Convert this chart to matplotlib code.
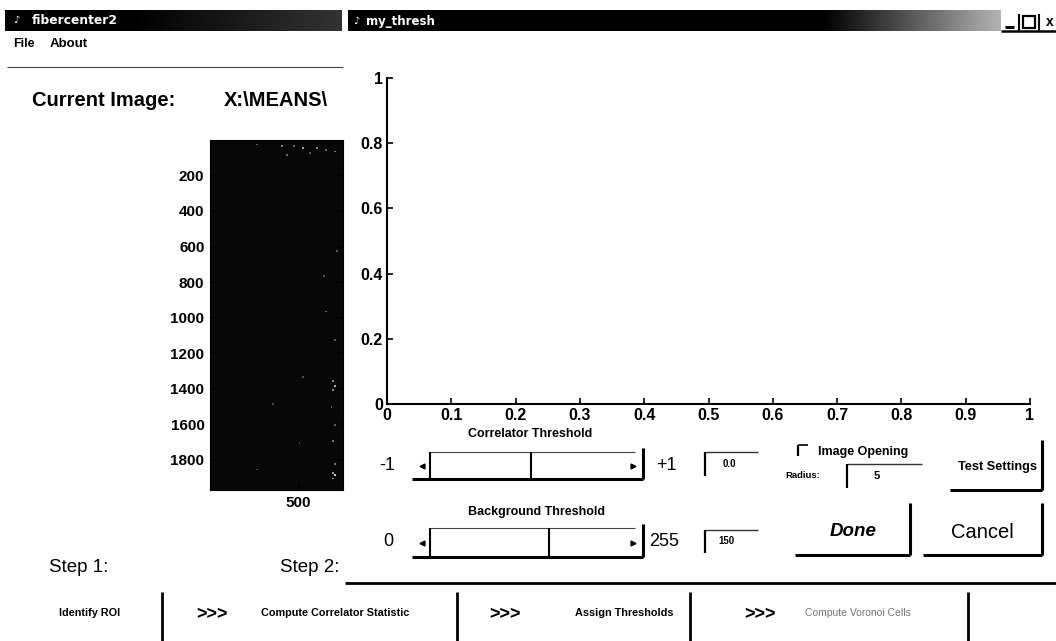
import matplotlib.pyplot as plt
import numpy as np
from matplotlib.patches import Rectangle

W, H = 1056, 641

# right panel (empty threshold plot)
x_ticks = [0, 0.1, 0.2, 0.3, 0.4, 0.5, 0.6, 0.7, 0.8, 0.9, 1]
y_ticks = [0, 0.2, 0.4, 0.6, 0.8, 1]

# left panel: current image (almost black, a few bright specks)
img_rows, img_cols = 1970, 750
img_yticks = [200, 400, 600, 800, 1000, 1200, 1400, 1600, 1800]
img_xticks = [500]
img_level = 0.03
speck_rows = [25, 30, 35, 40, 45, 55, 60, 70, 80, 620, 760, 960, 1120, 1330,
              1350, 1380, 1400, 1480, 1500, 1600, 1690, 1700, 1820, 1850, 1870, 1880, 1900]
speck_cols = [260, 400, 470, 520, 600, 650, 700, 560, 430, 710, 640, 650, 700, 520,
              690, 700, 695, 350, 680, 700, 690, 500, 700, 260, 690, 700, 695]
speck_vals = [0.4, 0.5, 0.4, 0.6, 0.5, 0.4, 0.5, 0.35, 0.4, 0.35, 0.35, 0.4, 0.35, 0.3,
              0.5, 0.7, 0.5, 0.3, 0.35, 0.35, 0.45, 0.3, 0.45, 0.3, 0.6, 0.8, 0.6]

# controls
corr_min, corr_max, corr_value = -1, 1, 0.0
bg_min, bg_max, bg_value = 0, 255, 150
radius = 5
step_labels = ["Identify ROI", "Compute Correlator Statistic",
               "Assign Thresholds", "Compute Voronoi Cells"]

plt.rcParams['font.family'] = ['Liberation Sans', 'DejaVu Sans']

fig = plt.figure(figsize=(W / 100, H / 100), dpi=100)
bg = fig.add_axes([0, 0, 1, 1])
bg.set_xlim(0, W)
bg.set_ylim(H, 0)
bg.axis('off')


def ax_rect(l, t, r, b):
    return [l / W, 1 - b / H, (r - l) / W, (b - t) / H]


def line(x0, y0, x1, y1, lw=1.5, c='black', z=5):
    bg.plot([x0, x1], [y0, y1], color=c, lw=lw, solid_capstyle='butt', zorder=z)


def txt(x, y, s, fs=8, ha='center', **kw):
    kw.setdefault('zorder', 6)
    bg.text(x, y, s, fontsize=fs, ha=ha, va='center', **kw)


# title bars
gx = np.linspace(0, 1, 300)
left_grad = np.clip((gx - 0.38) / 0.62, 0, 1)[None, :] * 0.2
right_grad = np.clip((gx - 0.73) / 0.27, 0, 1)[None, :] * 0.7
bg.imshow(left_grad, extent=(5, 342, 31, 10), cmap='gray', vmin=0, vmax=1,
          aspect='auto', zorder=2)
bg.imshow(right_grad, extent=(348, 1001, 31, 10), cmap='gray', vmin=0, vmax=1,
          aspect='auto', zorder=2)
bg.set_xlim(0, W)
bg.set_ylim(H, 0)
txt(16, 20, '\u266a', fs=7, color='white', family='DejaVu Sans')
txt(32, 20, 'fibercenter2', fs=8.8, ha='left', color='white', weight='bold', family='DejaVu Sans')
txt(356, 21, '\u266a', fs=7, color='white', family='DejaVu Sans')
txt(366, 21, 'my_thresh', fs=8.5, ha='left', color='white', weight='bold', family='DejaVu Sans')
# window buttons
line(1001, 31, 1056, 31, lw=1.8)
line(1019, 14, 1019, 31, lw=1.5)
line(1039, 14, 1039, 31, lw=1.5)
line(1005, 27, 1014, 27, lw=2.2)
bg.add_patch(Rectangle((1023, 16), 12, 12, fill=False, lw=1.6, ec='black', zorder=6))
txt(1050, 22, 'x', fs=10, weight='bold')

# menu of left window
txt(13, 44, 'File', fs=9, ha='left', weight='bold')
txt(50, 44, 'About', fs=9.5, ha='left', weight='bold')
line(7, 67, 343, 67, lw=0.8, c='#444')

# current image caption (cut by the overlapping window)
txt(32, 101, 'Current Image:', fs=14.5, ha='left', weight='bold', zorder=3)
txt(224, 101, 'X:\\MEANS\\', fs=14.5, ha='left', weight='bold', zorder=3)
bg.add_patch(Rectangle((345, 35), W - 345, 540, fc='white', ec='none', zorder=3.5))

# image axes
img = np.full((img_rows // 10, img_cols // 10), img_level)
for r, c, v in zip(speck_rows, speck_cols, speck_vals):
    img[r // 10, c // 10] = v
ax_img = fig.add_axes(ax_rect(210, 140, 343, 490))
ax_img.imshow(img, cmap='gray', vmin=0, vmax=1, aspect='auto', interpolation='nearest',
              extent=(0.5, img_cols + 0.5, img_rows + 0.5, 0.5))
ax_img.set_xlim(0.5, img_cols + 0.5)
ax_img.set_ylim(img_rows + 0.5, 0.5)
ax_img.set_yticks(img_yticks)
ax_img.set_xticks(img_xticks)
ax_img.tick_params(direction='in', top=True, right=True, length=4, width=1.2,
                   labelsize=11, pad=4)
for lab in ax_img.get_xticklabels() + ax_img.get_yticklabels():
    lab.set_fontweight('bold')

# threshold axes
ax = fig.add_axes(ax_rect(387, 78, 1030, 404))
ax.patch.set_alpha(0)
ax.set_xlim(0, 1)
ax.set_ylim(0, 1)
ax.set_xticks(x_ticks)
ax.set_xticklabels(['%g' % t for t in x_ticks])
ax.set_yticks(y_ticks)
ax.set_yticklabels(['%g' % t for t in y_ticks])
ax.spines['top'].set_visible(False)
ax.spines['right'].set_visible(False)
for s in ['left', 'bottom']:
    ax.spines[s].set_linewidth(1.5)
ax.tick_params(direction='in', length=4, width=1.2, labelsize=11.5, pad=3)
for lab in ax.get_xticklabels() + ax.get_yticklabels():
    lab.set_fontweight('bold')


def slider(y_top, y_bot, value, vmin, vmax):
    x0, xl, x1, thumb = 412, 430, 643, 11
    frac = (value - vmin) / (vmax - vmin)
    xd = xl + frac * (x1 - xl - thumb)
    ym = (y_top + y_bot) / 2
    line(xl, y_top, x1 - 8, y_top, lw=0.8, c='#444')
    line(xl, y_top, xl, y_bot, lw=1.5)
    line(xd, y_top, xd, y_bot, lw=1.5)
    line(x1, y_top - 4, x1, y_bot, lw=2.2)
    line(x0, y_bot, x1, y_bot, lw=2.2)
    bg.plot([422], [ym], marker='<', ms=3.5, color='black', zorder=6)
    bg.plot([633], [ym], marker='>', ms=3.5, color='black', zorder=6)


def editbox(x0, y0, x1, y1, s, fs=7, tx=None):
    line(x0, y0, x1, y0, lw=1.0, c='#333')
    line(x0, y0, x0, y1, lw=1.6)
    txt(tx if tx is not None else (x0 + x1) / 2, (y0 + y1) / 2, s, fs=fs, weight='bold')


def button(x0, y0, x1, y1):
    line(x0, y1, x1, y1, lw=2.2)
    line(x1, y0, x1, y1, lw=2.2)


# correlator threshold row
txt(530, 434, 'Correlator Threshold', fs=9, weight='bold')
txt(387, 465, '-1', fs=13)
slider(452, 479, corr_value, corr_min, corr_max)
txt(666, 465, '+1', fs=13)
editbox(705, 452, 758, 476, '%.1f' % corr_value, fs=7, tx=729)

# background threshold row
txt(537, 512, 'Background Threshold', fs=9, weight='bold')
txt(388, 542, '0', fs=13)
slider(528, 557, bg_value, bg_min, bg_max)
txt(664, 542, '255', fs=13)
editbox(705, 530, 758, 553, str(bg_value), fs=7, tx=726)

# image opening
line(798, 445, 808, 445, lw=1.2)
line(798, 445, 798, 456, lw=1.6)
txt(818, 452, 'Image Opening', fs=9, ha='left', weight='bold')
txt(803, 476, 'Radius:', fs=6.8, weight='bold')
editbox(847, 464, 922, 488, str(radius), fs=8, tx=877)

# buttons
button(950, 440, 1042, 490)
txt(997, 467, 'Test Settings', fs=9.2, weight='bold')
button(795, 503, 910, 555)
txt(853, 531, 'Done', fs=13.5, weight='bold', style='italic')
button(923, 503, 1042, 555)
txt(982, 532, 'Cancel', fs=14.5)

# steps
txt(79, 568, 'Step 1:', fs=13.5)
txt(310, 568, 'Step 2:', fs=13.5)
line(345, 583, W, 583, lw=2.0)

label_x = [90, 335, 624, 858]
sep_x = [162, 457, 690, 968]
arrow_x = [212, 505, 760]
for i, (lx, s) in enumerate(zip(label_x, step_labels)):
    if i == len(step_labels) - 1:
        txt(lx, 613, s, fs=7.5, color='#777')
    else:
        txt(lx, 613, s, fs=7.8, weight='bold')
for sx in sep_x:
    line(sx, 592, sx, H, lw=2.0)
for axx in arrow_x:
    txt(axx, 615, '>>>', fs=13, weight='bold')

fig.savefig('out.png', dpi=100)
